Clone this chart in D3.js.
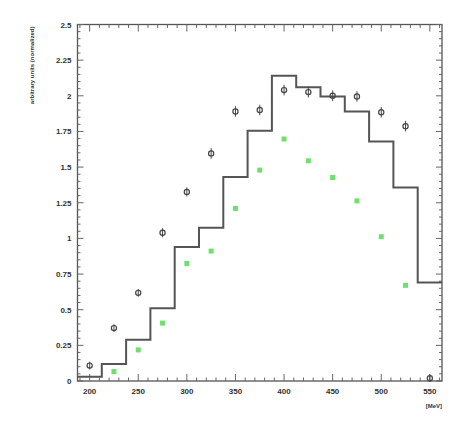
<!DOCTYPE html>
<html>
<head>
<meta charset="utf-8">
<script src="https://cdn.jsdelivr.net/npm/d3@7"></script>
<style>
  html, body { margin: 0; padding: 0; background: #ffffff; }
  svg { display: block; }
  .tick-label { font-family: "Liberation Sans", Arial, sans-serif; font-size: 8px; font-weight: bold; fill: #333; }
  .axis-title { font-family: "Liberation Sans", Arial, sans-serif; font-size: 6px; font-weight: bold; fill: #333; }
</style>
</head>
<body>
<svg id="chart" width="455" height="425"></svg>
<script>
// Bin centres (MeV), bin width 25
const binCenters = [200, 225, 250, 275, 300, 325, 350, 375, 400, 425, 450, 475, 500, 525, 550];
const binWidth = 25;
// Simulated distribution (histogram)
const histValues = [0.03, 0.12, 0.29, 0.51, 0.94, 1.075, 1.43, 1.755, 2.14, 2.06, 1.995, 1.89, 1.68, 1.357, 0.69];
// Measured points (open circles with error bars)
const dataValues = [0.108, 0.371, 0.618, 1.04, 1.326, 1.596, 1.89, 1.90, 2.04, 2.026, 2.00, 1.995, 1.885, 1.787, 0.02];
const dataErrors = [0.02, 0.02, 0.02, 0.025, 0.025, 0.03, 0.03, 0.03, 0.03, 0.03, 0.03, 0.03, 0.03, 0.03, 0.02];
// Second measured series (green squares)
const greenValues = [null, 0.066, 0.218, 0.406, 0.824, 0.911, 1.21, 1.479, 1.697, 1.544, 1.427, 1.263, 1.012, 0.671, null];
// Axis tick values and labels
const xTicks = [200, 250, 300, 350, 400, 450, 500, 550];
const yTicks = [0, 0.25, 0.5, 0.75, 1, 1.25, 1.5, 1.75, 2, 2.25, 2.5];
const yTickLabels = ["0", "0.25", "0.5", "0.75", "1", "1.25", "1.5", "1.75", "2", "2.25", "2.5"];
const xTitle = "[MeV]";
const yTitle = "arbitrary units (normalized)";

const svg = d3.select("#chart");
const frame = { left: 77.5, right: 442, top: 24.5, bottom: 381 };

const x = d3.scaleLinear().domain([187.5, 562.5]).range([frame.left, frame.right]);
const y = d3.scaleLinear().domain([0, 2.5]).range([frame.bottom, frame.top]);

const g = svg.append("g");

// Frame
g.append("rect")
  .attr("x", frame.left).attr("y", frame.top)
  .attr("width", frame.right - frame.left).attr("height", frame.bottom - frame.top)
  .attr("fill", "none").attr("stroke", "#555").attr("stroke-width", 1.3);

// Y ticks: left and right, pointing inward
const yMinor = d3.range(0, 2.5001, 0.05);
const tickColor = "#666";
yMinor.forEach(v => {
  const isMajor = Math.abs(v / 0.25 - Math.round(v / 0.25)) < 1e-6;
  const len = isMajor ? 6 : 3;
  g.append("line").attr("x1", frame.left).attr("x2", frame.left + len)
    .attr("y1", y(v)).attr("y2", y(v)).attr("stroke", tickColor).attr("stroke-width", 1);
  g.append("line").attr("x1", frame.right).attr("x2", frame.right - len)
    .attr("y1", y(v)).attr("y2", y(v)).attr("stroke", tickColor).attr("stroke-width", 1);
});

// X ticks: bottom and top, pointing inward
const xMinor = d3.range(190, 562, 10);
xMinor.forEach(v => {
  const isMajor = v % 50 === 0;
  const len = isMajor ? 7 : 3.5;
  g.append("line").attr("x1", x(v)).attr("x2", x(v))
    .attr("y1", frame.bottom).attr("y2", frame.bottom - len).attr("stroke", tickColor).attr("stroke-width", 1);
  g.append("line").attr("x1", x(v)).attr("x2", x(v))
    .attr("y1", frame.top).attr("y2", frame.top + len).attr("stroke", tickColor).attr("stroke-width", 1);
});

// Tick labels
yTicks.forEach((v, i) => {
  g.append("text").attr("class", "tick-label")
    .attr("x", frame.left - 6).attr("y", y(v) + 3)
    .attr("text-anchor", "end").text(yTickLabels[i]);
});
xTicks.forEach(v => {
  g.append("text").attr("class", "tick-label")
    .attr("x", x(v)).attr("y", frame.bottom + 13)
    .attr("text-anchor", "middle").text(v);
});

// Axis titles
g.append("text").attr("class", "axis-title")
  .attr("x", frame.right).attr("y", frame.bottom + 27)
  .attr("text-anchor", "end").text(xTitle);
g.append("text").attr("class", "axis-title")
  .attr("transform", `translate(34, ${frame.top + 2}) rotate(-90)`)
  .attr("text-anchor", "end").text(yTitle);

// Histogram as a step line over the bin edges
const stepPoints = binCenters.map((c, i) => [c - binWidth / 2, histValues[i]]);
stepPoints.push([binCenters[binCenters.length - 1] + binWidth / 2, histValues[histValues.length - 1]]);
const stepLine = d3.line().x(d => x(d[0])).y(d => y(d[1])).curve(d3.curveStepAfter);
g.append("path").attr("d", stepLine(stepPoints))
  .attr("fill", "none").attr("stroke", "#555").attr("stroke-width", 2);

// Green squares
const sq = 5;
g.selectAll("rect.green")
  .data(binCenters.map((c, i) => ({ c, v: greenValues[i] })).filter(d => d.v !== null))
  .join("rect").attr("class", "green")
  .attr("x", d => x(d.c) - sq / 2).attr("y", d => y(d.v) - sq / 2)
  .attr("width", sq).attr("height", sq)
  .attr("fill", "#6ee06e");

// Open circles with vertical error bars
const pts = binCenters.map((c, i) => ({ c, v: dataValues[i], e: dataErrors[i] }));
g.selectAll("line.err").data(pts).join("line").attr("class", "err")
  .attr("x1", d => x(d.c)).attr("x2", d => x(d.c))
  .attr("y1", d => y(d.v + d.e) - 1).attr("y2", d => y(d.v - d.e) + 1)
  .attr("stroke", "#444").attr("stroke-width", 1);
g.selectAll("circle.pt").data(pts).join("circle").attr("class", "pt")
  .attr("cx", d => x(d.c)).attr("cy", d => y(d.v)).attr("r", 2.6)
  .attr("fill", "none").attr("stroke", "#444").attr("stroke-width", 1.2);
</script>
</body>
</html>
